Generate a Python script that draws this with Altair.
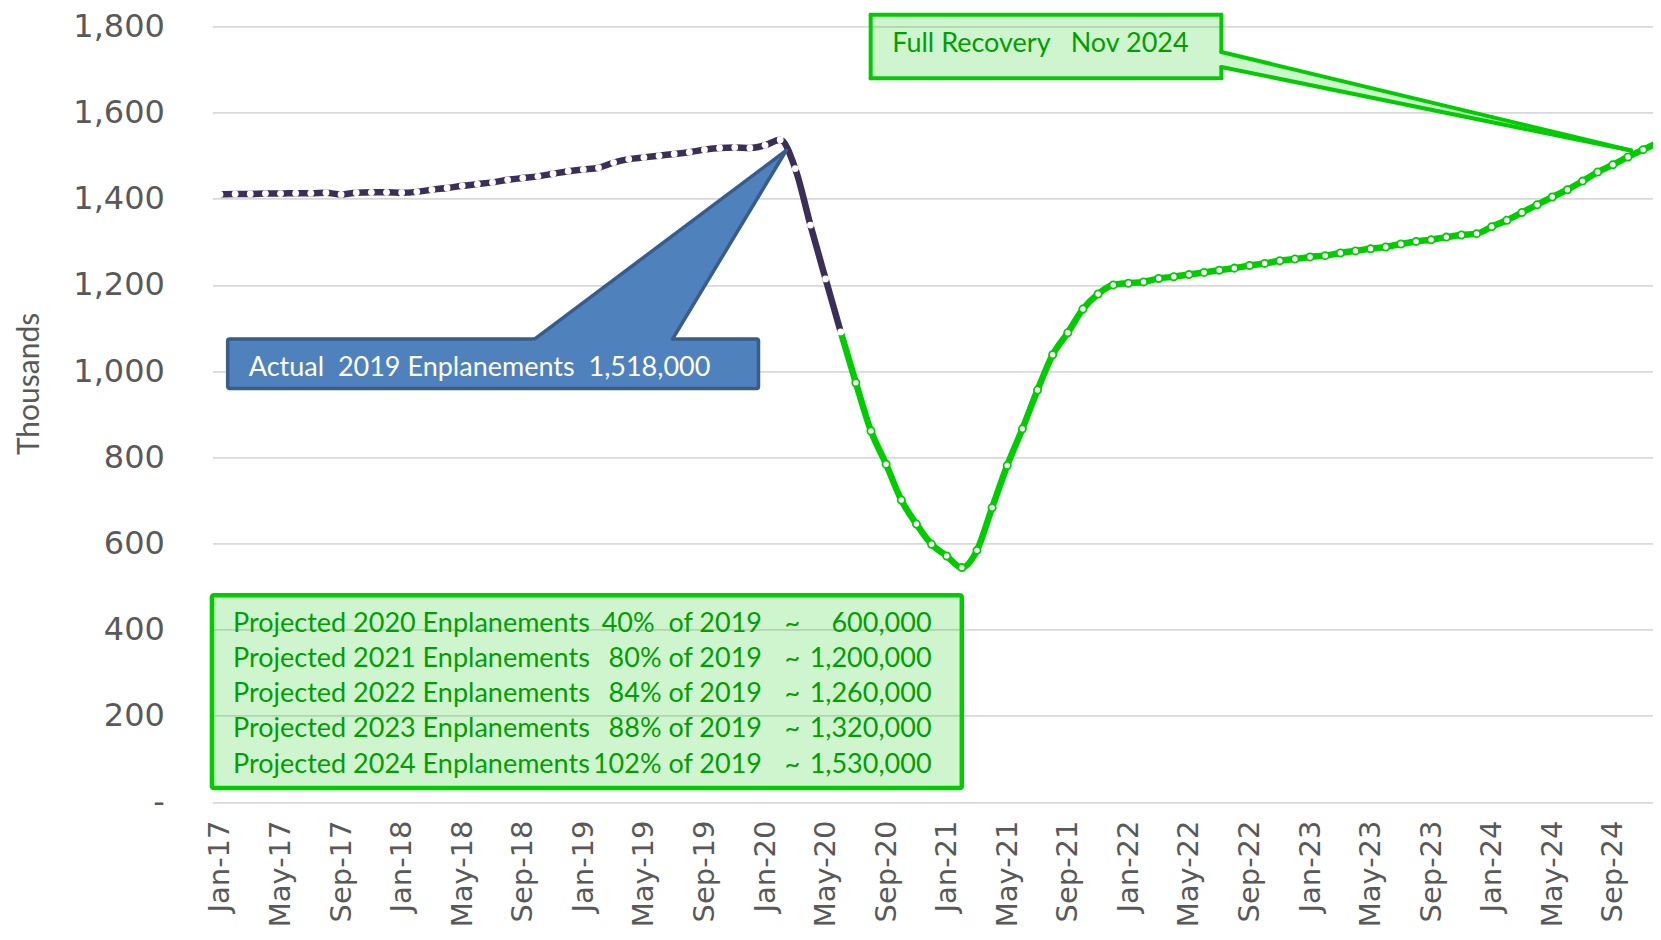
import re
import altair as alt
import pandas as pd

# ---------------- data ----------------
months = pd.date_range("2017-01-01", periods=96, freq="MS")
tick_labels = [d.strftime("%b-%y") for d in months[::4]]

# Actual monthly enplanements (thousands), Jan-17 .. Jun-20
actual_values = [1410, 1411, 1411, 1412, 1412, 1413, 1413, 1414, 1410, 1414, 1415, 1415,
                 1414, 1416, 1421, 1425, 1430, 1434, 1438, 1444, 1448, 1452, 1458, 1464,
                 1468, 1472, 1484, 1492, 1496, 1500, 1504, 1508, 1514, 1518, 1519, 1518,
                 1524, 1537, 1470, 1339, 1214, 1091]
# Projected monthly enplanements (thousands), Jun-20 .. Dec-24
projected_values = [1091, 973, 861, 784, 701, 645, 598, 571, 544, 584, 683, 781,
                    866, 956, 1038, 1089, 1144, 1179, 1200, 1204, 1207, 1215, 1219, 1224,
                    1229, 1234, 1239, 1245, 1250, 1256, 1260, 1265, 1268, 1274, 1279, 1284,
                    1288, 1295, 1301, 1305, 1311, 1316, 1319, 1335, 1350, 1368, 1386, 1404,
                    1421, 1441, 1462, 1479, 1497, 1514, 1530]

proj_years = [2020, 2021, 2022, 2023, 2024]
proj_pct = ["40%  of 2019", "80% of 2019", "84% of 2019", "88% of 2019", "102% of 2019"]
proj_amounts = ["600,000", "1,200,000", "1,260,000", "1,320,000", "1,530,000"]

actual_label = "Actual  2019 Enplanements  1,518,000"
recovery_label = "Full Recovery   Nov 2024"


def keep_spaces(s):
    # SVG collapses runs of spaces; keep them with non-breaking spaces
    return re.sub(r" {2,}", lambda m: " " + "\u00a0" * (len(m.group(0)) - 1), s)


# ---------------- styles ----------------
DARK = "#3b2f5a"
GREEN = "#00cc00"
GREEN_TXT = "#009f00"
GREEN_FILL = "#00cc00"
BLUE = "#4f81bd"
BLUE_EDGE = "#385d8a"
GRAY = "#595959"
TXT_FONT = "Lato"
TXT_SIZE = 27

PX_PER_MONTH = 15.14
PLOT_W = 1440.6
PLOT_H = 775.6

actual_df = pd.DataFrame({"x": list(range(len(actual_values))), "y": actual_values})
proj_start = len(actual_values) - 1
proj_df = pd.DataFrame({"x": list(range(proj_start, proj_start + len(projected_values))),
                        "y": projected_values})

xscale = alt.Scale(domain=[-0.5, -0.5 + PLOT_W / PX_PER_MONTH], nice=False, zero=False)
yscale = alt.Scale(domain=[0, 1800], nice=False, zero=False)
label_expr = "[" + ",".join(f"'{s}'" for s in tick_labels) + "][round(datum.value/4)]"
xaxis = alt.Axis(values=list(range(0, 96, 4)), labelExpr=label_expr, title=None,
                 labelAngle=270, labelFont="DejaVu Sans", labelFontSize=29, labelColor=GRAY,
                 labelPadding=18, domain=False, ticks=False, grid=False, labelOverlap=False)
yaxis = alt.Axis(values=list(range(0, 1801, 200)),
                 labelExpr="datum.value == 0 ? '-' : format(datum.value, ',')",
                 title="Thousands", titleFont=TXT_FONT, titleFontSize=30, titleColor=GRAY,
                 titleFontWeight="normal", titleAngle=270, titleX=-183, titleY=357,
                 titleAlign="center", titleBaseline="middle",
                 labelFont="DejaVu Sans", labelFontSize=32, labelColor=GRAY, labelPadding=48,
                 domain=False, ticks=False, grid=True, gridColor="#d9d9d9", gridWidth=1.6,
                 labelOverlap=False)


def X(f):
    return alt.X(f"{f}:Q", scale=xscale, axis=xaxis)


def Y(f):
    return alt.Y(f"{f}:Q", scale=yscale, axis=yaxis)


# ---------------- series ----------------
actual_line = alt.Chart(actual_df).mark_line(
    color=DARK, strokeWidth=6.5, interpolate="monotone").encode(x=X("x"), y=Y("y"))
proj_line = alt.Chart(proj_df).mark_line(
    color=GREEN, strokeWidth=6.5, interpolate="monotone").encode(x=X("x"), y=Y("y"))
actual_pts = alt.Chart(actual_df).mark_circle(
    size=46, color="white", opacity=1).encode(x=X("x"), y=Y("y"))
proj_pts = alt.Chart(proj_df[proj_df["x"] > proj_start]).mark_circle(
    size=52, fill="white", stroke=GREEN, strokeWidth=1.8, fillOpacity=1, strokeOpacity=1
).encode(x=X("x"), y=Y("y"))

# ---------------- blue callout (data coordinates) ----------------
bx0, bx1, by0, by1 = 0.51, 35.57, 959.4, 1074.7
b_base_l, b_base_r, b_tip = (20.8, by1), (29.9, by1), (37.4, 1512.0)


def on_line(p, q, yv):
    return p[0] + (q[0] - p[0]) * (yv - p[1]) / (q[1] - p[1])


b_inner = by1 - 6
bl = on_line(b_base_l, b_tip, b_inner)
br = on_line(b_base_r, b_tip, b_inner)
up_at_br = b_base_l[1] + (b_tip[1] - b_base_l[1]) * (br - b_base_l[0]) / (b_tip[0] - b_base_l[0])
blue_ptr = pd.DataFrame({"x": [bl, br, b_tip[0]],
                         "y": [b_inner, up_at_br, b_tip[1]],
                         "y2": [b_inner, b_inner, b_tip[1]]})
blue_box = alt.Chart(pd.DataFrame({"x": [bx0], "x2": [bx1], "y": [by0], "y2": [by1]})).mark_rect(
    fill=BLUE, stroke=BLUE_EDGE, strokeWidth=3.5, cornerRadius=2
).encode(x=X("x"), x2="x2", y=Y("y"), y2="y2")
blue_ptr_area = alt.Chart(blue_ptr).mark_area(orient="vertical", color=BLUE, opacity=1).encode(
    x=X("x"), y=Y("y"), y2="y2")
blue_edges = alt.Chart(pd.DataFrame({"x": [b_base_l[0], b_base_r[0]], "y": [by1, by1],
                                     "x2": [b_tip[0], b_tip[0]], "y2": [b_tip[1], b_tip[1]]})
                       ).mark_rule(color=BLUE_EDGE, strokeWidth=3.5, strokeCap="round").encode(
    x=X("x"), x2="x2", y=Y("y"), y2="y2")
blue_text = alt.Chart(pd.DataFrame({"x": [1.9], "y": [1008], "t": [keep_spaces(actual_label)]})).mark_text(
    align="left", baseline="middle", font=TXT_FONT, fontSize=TXT_SIZE, color="white"
).encode(x=X("x"), y=Y("y"), text="t:N")

# ---------------- green top callout ----------------
gx0, gx1, gy0, gy1 = 42.98, 66.14, 1679.5, 1827.0
g_up, g_lo, g_tip = (gx1, 1740.6), (gx1, 1705.8), (93.2, 1512.0)
green_box_fill = alt.Chart(pd.DataFrame({"x": [gx0], "x2": [gx1], "y": [gy0], "y2": [gy1]})).mark_rect(
    fill=GREEN_FILL, fillOpacity=0.19).encode(x=X("x"), x2="x2", y=Y("y"), y2="y2")
green_ptr_area = alt.Chart(pd.DataFrame({"x": [gx1, g_tip[0]], "y": [g_up[1], g_tip[1]],
                                         "y2": [g_lo[1], g_tip[1]]})).mark_area(
    orient="vertical", color=GREEN_FILL, opacity=0.19).encode(x=X("x"), y=Y("y"), y2="y2")
g_edges = pd.DataFrame({
    "x":  [gx0, gx0, gx0, gx1, gx1, g_up[0], g_lo[0]],
    "y":  [gy1, gy0, gy0, gy1, gy0, g_up[1], g_lo[1]],
    "x2": [gx1, gx1, gx0, gx1, gx1, g_tip[0], g_tip[0]],
    "y2": [gy1, gy0, gy1, g_up[1], g_lo[1], g_tip[1], g_tip[1]],
})
green_edges = alt.Chart(g_edges).mark_rule(color=GREEN, strokeWidth=4, strokeCap="round").encode(
    x=X("x"), x2="x2", y=Y("y"), y2="y2")
green_text = alt.Chart(pd.DataFrame({"x": [44.4], "y": [1759.7], "t": [keep_spaces(recovery_label)]})).mark_text(
    align="left", baseline="middle", font=TXT_FONT, fontSize=TXT_SIZE, color=GREEN_TXT
).encode(x=X("x"), y=Y("y"), text="t:N")

# ---------------- green bottom box ----------------
proj_box = alt.Chart(pd.DataFrame({"x": [-0.53], "x2": [49.0], "y": [32.5], "y2": [480.0]})).mark_rect(
    fill=GREEN_FILL, fillOpacity=0.19, stroke=GREEN, strokeWidth=4.5, strokeOpacity=1, cornerRadius=2
).encode(x=X("x"), x2="x2", y=Y("y"), y2="y2")
rows_y = [413 - i * 81.5 for i in range(len(proj_years))]
rows = pd.DataFrame({
    "y": rows_y,
    "c1": [f"Projected {yr} Enplanements" for yr in proj_years],
    "c2": [keep_spaces(s) for s in proj_pct],
    "c3": ["~"] * len(proj_years),
    "c4": proj_amounts,
})
rows["x1"], rows["x2"], rows["x3"], rows["x4"] = 0.86, 35.8, 37.8, 47.0


def col_text(col, xcol, align):
    return alt.Chart(rows).mark_text(align=align, baseline="middle", font=TXT_FONT,
                                     fontSize=TXT_SIZE, color=GREEN_TXT).encode(
        x=X(xcol), y=Y("y"), text=f"{col}:N")


proj_texts = [col_text("c1", "x1", "left"), col_text("c2", "x2", "right"),
              col_text("c3", "x3", "center"), col_text("c4", "x4", "right")]

chart = alt.layer(
    actual_line, proj_line, actual_pts, proj_pts,
    proj_box, *proj_texts,
    blue_box, blue_ptr_area, blue_edges, blue_text,
    green_box_fill, green_ptr_area, green_edges, green_text,
).properties(
    width=PLOT_W, height=PLOT_H,
    padding={"left": 204.4, "top": 18.4, "right": 0, "bottom": 128},
    autosize=alt.AutoSizeParams(type="none"),
    background="white",
).configure_view(stroke=None)

chart.save("out.html", embed_options={"renderer": "svg", "actions": False})
